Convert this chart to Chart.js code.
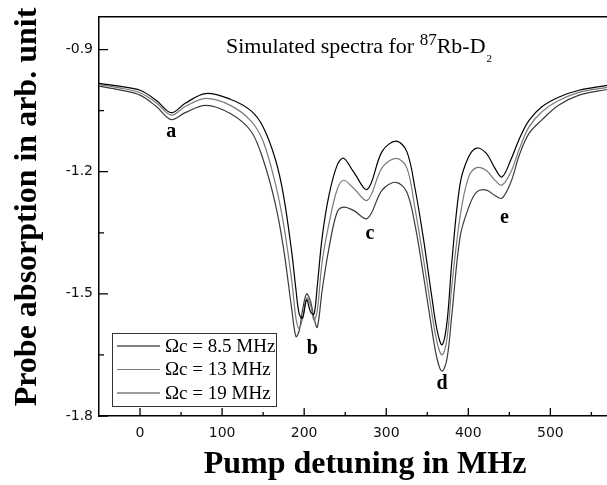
<!DOCTYPE html>
<html lang="en">

<head>
  <meta charset="UTF-8">
  <title>Simulated spectra</title>
  <script src="https://cdn.jsdelivr.net/npm/chart.js"></script>
  <style>
    body { margin: 0; background: #fff; }
    #box { width: 607px; height: 485px; position: relative; }
  </style>
</head>

<body>
  <div id="box">
    <canvas id="chartSpectra"></canvas>
  </div>
</body>

</html>
<script>
  // pump detuning (MHz)
  const detuning = [-50, -25, 0, 20, 38, 55, 80, 110, 135, 150, 165, 175, 185, 190, 194, 198, 203, 208, 212, 216, 222, 230, 240, 248, 260, 277, 295, 312, 325, 335, 345, 355, 362, 368, 374, 380, 390, 400, 410, 422, 432, 441, 452, 462, 474, 490, 510, 535, 569];

  // probe absorption for each coupling Rabi frequency
  const omega85 = [-0.983, -0.990, -1.000, -1.025, -1.055, -1.032, -1.008, -1.022, -1.050, -1.090, -1.170, -1.260, -1.400, -1.490, -1.550, -1.560, -1.515, -1.545, -1.550, -1.480, -1.360, -1.260, -1.185, -1.167, -1.200, -1.243, -1.150, -1.125, -1.150, -1.240, -1.360, -1.500, -1.590, -1.625, -1.570, -1.420, -1.230, -1.165, -1.142, -1.155, -1.190, -1.213, -1.170, -1.120, -1.074, -1.040, -1.017, -1.000, -0.988];
  const omega13 = [-0.986, -0.994, -1.006, -1.031, -1.061, -1.040, -1.020, -1.037, -1.075, -1.125, -1.230, -1.330, -1.470, -1.560, -1.585, -1.560, -1.510, -1.530, -1.565, -1.540, -1.420, -1.330, -1.245, -1.221, -1.240, -1.270, -1.190, -1.167, -1.190, -1.290, -1.410, -1.540, -1.620, -1.650, -1.610, -1.480, -1.310, -1.215, -1.190, -1.197, -1.220, -1.233, -1.200, -1.145, -1.090, -1.052, -1.025, -1.005, -0.993];
  const omega19 = [-0.990, -0.999, -1.012, -1.040, -1.072, -1.055, -1.037, -1.057, -1.100, -1.170, -1.280, -1.390, -1.540, -1.605, -1.590, -1.540, -1.500, -1.520, -1.560, -1.582, -1.490, -1.390, -1.300, -1.287, -1.295, -1.315, -1.245, -1.226, -1.250, -1.330, -1.450, -1.580, -1.660, -1.690, -1.660, -1.550, -1.360, -1.290, -1.250, -1.245, -1.258, -1.265, -1.225, -1.160, -1.106, -1.072, -1.037, -1.012, -0.998];

  const seriesNames = ['\u03A9c = 8.5 MHz', '\u03A9c = 13 MHz', '\u03A9c = 19 MHz'];
  const xTicks = [0, 100, 200, 300, 400, 500];
  const xMinor = [50, 150, 250, 350, 450, 550];
  const yTicks = [-1.8, -1.5, -1.2, -0.9];
  const yMinor = [-1.65, -1.35, -1.05];

  // peak labels (placed in data coordinates)
  const peakNames = ['a', 'b', 'c', 'd', 'e'];
  const peakX = [38, 210, 280, 368, 444];
  const peakY = [-1.103, -1.635, -1.352, -1.721, -1.313];

  const lineColors = ['#000000', '#7a7a7a', '#3a3a3a'];
  const allSeries = [omega85, omega13, omega19];

  const serif = '"Liberation Serif", "DejaVu Serif", serif';

  const extras = {
    id: 'extras',
    afterDraw(chart) {
      const ctx = chart.ctx;
      const area = chart.chartArea;
      const sx = chart.scales.x, sy = chart.scales.y;
      ctx.save();
      // inward ticks
      ctx.strokeStyle = '#000';
      ctx.lineWidth = 1.3;
      ctx.beginPath();
      xTicks.forEach(v => { const p = sx.getPixelForValue(v); ctx.moveTo(p, area.bottom); ctx.lineTo(p, area.bottom - 8); });
      xMinor.forEach(v => { const p = sx.getPixelForValue(v); ctx.moveTo(p, area.bottom); ctx.lineTo(p, area.bottom - 4); });
      yTicks.forEach(v => { const p = sy.getPixelForValue(v); ctx.moveTo(area.left, p); ctx.lineTo(area.left + 9, p); });
      yMinor.forEach(v => { const p = sy.getPixelForValue(v); ctx.moveTo(area.left, p); ctx.lineTo(area.left + 5, p); });
      ctx.stroke();

      // peak letters
      ctx.fillStyle = '#000';
      ctx.font = 'bold 20px ' + serif;
      ctx.textAlign = 'center';
      ctx.textBaseline = 'middle';
      peakNames.forEach((n, i) => {
        ctx.fillText(n, sx.getPixelForValue(peakX[i]), sy.getPixelForValue(peakY[i]));
      });

      // inner title
      ctx.textAlign = 'left';
      ctx.textBaseline = 'alphabetic';
      let tx = 226;
      ctx.font = '22px ' + serif;
      const t1 = 'Simulated spectra for ';
      ctx.fillText(t1, tx, 53);
      tx += ctx.measureText(t1).width;
      ctx.font = '17px ' + serif;
      ctx.fillText('87', tx, 45);
      tx += ctx.measureText('87').width;
      ctx.font = '22px ' + serif;
      ctx.fillText('Rb-D', tx, 53);
      tx += ctx.measureText('Rb-D').width;
      ctx.font = '11px ' + serif;
      ctx.fillText('2', tx + 1, 62);

      // legend box
      ctx.strokeStyle = '#333';
      ctx.lineWidth = 1;
      ctx.strokeRect(112.5, 333.5, 164, 73);
      ctx.font = '19px ' + serif;
      ctx.textBaseline = 'middle';
      chart.data.datasets.forEach((ds, i) => {
        const yy = 346 + i * 23.5;
        ctx.strokeStyle = ds.borderColor;
        ctx.lineWidth = 1.2;
        ctx.beginPath();
        ctx.moveTo(117, yy);
        ctx.lineTo(160, yy);
        ctx.stroke();
        ctx.fillStyle = '#000';
        ctx.fillText(ds.label, 165, yy + 1);
      });

      // axis titles
      ctx.fillStyle = '#000';
      ctx.font = 'bold 32px ' + serif;
      ctx.textAlign = 'center';
      ctx.textBaseline = 'middle';
      ctx.fillText('Pump detuning in MHz', 365, 465);
      ctx.translate(28, 207);
      ctx.rotate(-Math.PI / 2);
      ctx.fillText('Probe absorption in arb. unit', 0, 0);
      ctx.restore();
    }
  };

  const ctxSpectra = document.getElementById('chartSpectra');
  new Chart(ctxSpectra, {
    type: 'line',
    data: {
      datasets: allSeries.map((s, i) => ({
        label: seriesNames[i],
        data: detuning.map((x, j) => ({ x: x, y: s[j] })),
        borderColor: lineColors[i],
        borderWidth: 1.2,
        pointRadius: 0,
        fill: false,
        tension: 0.35
      }))
    },
    options: {
      responsive: true,
      maintainAspectRatio: false,
      animation: false,
      layout: { padding: { top: 17, left: 0, right: 0, bottom: 0 } },
      plugins: {
        legend: { display: false },
        tooltip: { enabled: false }
      },
      scales: {
        x: {
          type: 'linear',
          min: -50,
          max: 569,
          afterBuildTicks: s => { s.ticks = xTicks.map(v => ({ value: v })); },
          afterFit: s => { s.height = 69; },
          grid: { display: false, drawTicks: false },
          border: { display: true, color: '#000', width: 1.5 },
          ticks: { color: '#111', padding: 9, maxRotation: 0, font: { family: 'DejaVu Sans', size: 14 } }
        },
        x2: {
          type: 'linear',
          position: 'top',
          min: -50,
          max: 569,
          afterFit: s => { s.height = 0; },
          grid: { display: false, drawTicks: false },
          border: { display: true, color: '#000', width: 1.5 },
          ticks: { display: false }
        },
        y: {
          min: -1.8,
          max: -0.82,
          afterBuildTicks: s => { s.ticks = yTicks.map(v => ({ value: v })); },
          afterFit: s => { s.width = 99; },
          grid: { display: false, drawTicks: false },
          border: { display: true, color: '#000', width: 1.5 },
          ticks: { color: '#111', padding: 6, font: { family: 'DejaVu Sans', size: 14 } }
        }
      }
    },
    plugins: [extras]
  });
</script>
